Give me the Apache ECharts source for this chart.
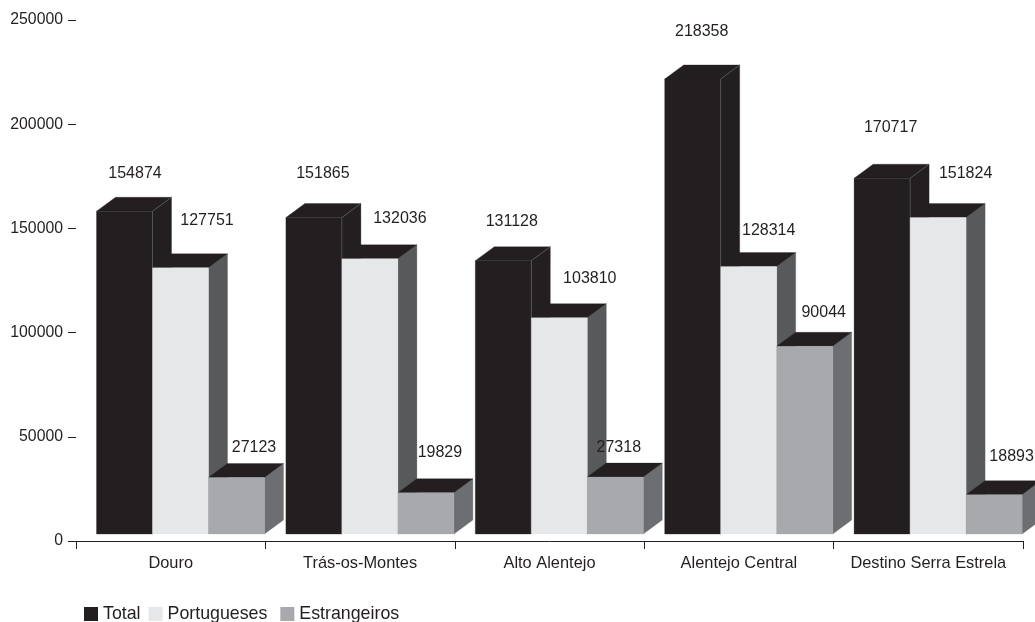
<!DOCTYPE html>
<html>
<head>
<meta charset="utf-8">
<script src="https://cdn.jsdelivr.net/npm/echarts@6/dist/echarts.min.js"></script>
<style>html,body{margin:0;padding:0;background:#fff}#c{width:1035px;height:622px}</style>
</head>
<body>
<div id="c"></div>
<script>
const categories = ['Douro', 'Trás-os-Montes', 'Alto Alentejo', 'Alentejo Central', 'Destino Serra Estrela'];
const seriesNames = ['Total', 'Portugueses', 'Estrangeiros'];
const total = [154874, 151865, 131128, 218358, 170717];
const portugueses = [127751, 132036, 103810, 128314, 151824];
const estrangeiros = [27123, 19829, 27318, 90044, 18893];

const frontColors = ['#231f20', '#e6e7e8', '#a7a9ac'];
const sideColors = ['#231f20', '#58595b', '#6d6e71'];
const topColor = '#231f20';
const ink = '#231f20';
const fontFamily = '"Liberation Sans", Arial, sans-serif';
const fontSize = 16;

// Hand-placed value label offsets from the top centre of each bar front
const labelDx = [
  [10.5, 9, 8.5, 9, 8.5],
  [26.5, 30, 30.5, 20, 27.5],
  [17.5, 14, 3.5, 19, 17.5]
];
const labelDy = [
  [-38, -43.5, -39, -47, -51],
  [-47, -40, -39, -36, -44],
  [-30, -40, -29, -34, -38]
];

const barInset = 20.5, barWidth = 56, depthX = 19, depthY = 14, lift = 7;

function renderBar(sIdx) {
  return function (params, api) {
    const i = api.value(0);
    const v = api.value(1);
    const catW = api.size([1, 0])[0];
    const cx = api.coord([i, 0])[0];
    const base = api.coord([i, 0])[1] - lift;
    const top = api.coord([i, v])[1] - lift;
    const x0 = cx - catW / 2 + barInset + sIdx * barWidth;
    const x1 = x0 + barWidth;
    const poly = (points, fill) => ({
      type: 'polygon',
      shape: { points },
      style: { fill, stroke: fill, lineWidth: 0.3 }
    });
    return {
      type: 'group',
      children: [
        poly([[x1, top], [x1 + depthX, top - depthY], [x1 + depthX, base - depthY], [x1, base]], sideColors[sIdx]),
        poly([[x0, top], [x0 + depthX, top - depthY], [x1 + depthX, top - depthY], [x1, top]], topColor),
        poly([[x0, top], [x1, top], [x1, base], [x0, base]], frontColors[sIdx]),
        sIdx === 0 ? {
          type: 'polyline',
          shape: { points: [[x1 + depthX, top - depthY], [x1, top], [x1, base]] },
          style: { fill: 'none', stroke: '#6d6e71', lineWidth: 0.5 }
        } : { type: 'group', children: [] },
        {
          type: 'text',
          style: {
            text: String(v),
            x: (x0 + x1) / 2 + labelDx[sIdx][params.dataIndex],
            y: top + labelDy[sIdx][params.dataIndex],
            align: 'center',
            verticalAlign: 'middle',
            fill: ink,
            font: fontSize + 'px ' + fontFamily
          }
        }
      ]
    };
  };
}

const allValues = [total, portugueses, estrangeiros];
const chart = echarts.init(document.getElementById('c'), null, { renderer: 'canvas' });
chart.setOption({
  animation: false,
  backgroundColor: '#fff',
  textStyle: { fontFamily, color: ink },
  grid: { left: 76, right: 12, top: 20, bottom: 81, containLabel: false },
  legend: {
    left: 84,
    top: 605,
    padding: 0,
    itemWidth: 14,
    itemHeight: 14,
    itemGap: 8,
    icon: 'rect',
    data: seriesNames,
    formatter: name => name === 'Portugueses' ? name + ' ' : name,
    textStyle: { fontSize: 17.8, color: ink, fontFamily }
  },
  xAxis: {
    type: 'category',
    data: categories,
    axisLine: { show: true, onZero: true, lineStyle: { color: ink, width: 1 } },
    axisTick: { show: true, length: 8, alignWithLabel: false, lineStyle: { color: ink, width: 1 } },
    axisLabel: { color: ink, fontSize: 16.4, fontFamily, margin: 14, interval: 0 },
    splitLine: { show: false }
  },
  yAxis: {
    type: 'value',
    min: 0,
    max: 250000,
    interval: 50000,
    axisLine: { show: false },
    axisTick: { show: true, length: 8, lineStyle: { color: ink, width: 1 } },
    axisLabel: { color: ink, fontSize: 15.8, fontFamily, margin: 13, formatter: v => String(v) },
    splitLine: { show: false }
  },
  series: seriesNames.map((name, s) => ({
    name,
    type: 'custom',
    clip: false,
    silent: true,
    itemStyle: { color: frontColors[s] },
    encode: { x: 0, y: 1 },
    renderItem: renderBar(s),
    data: allValues[s].map((v, i) => [i, v])
  }))
});
</script>
</body>
</html>
